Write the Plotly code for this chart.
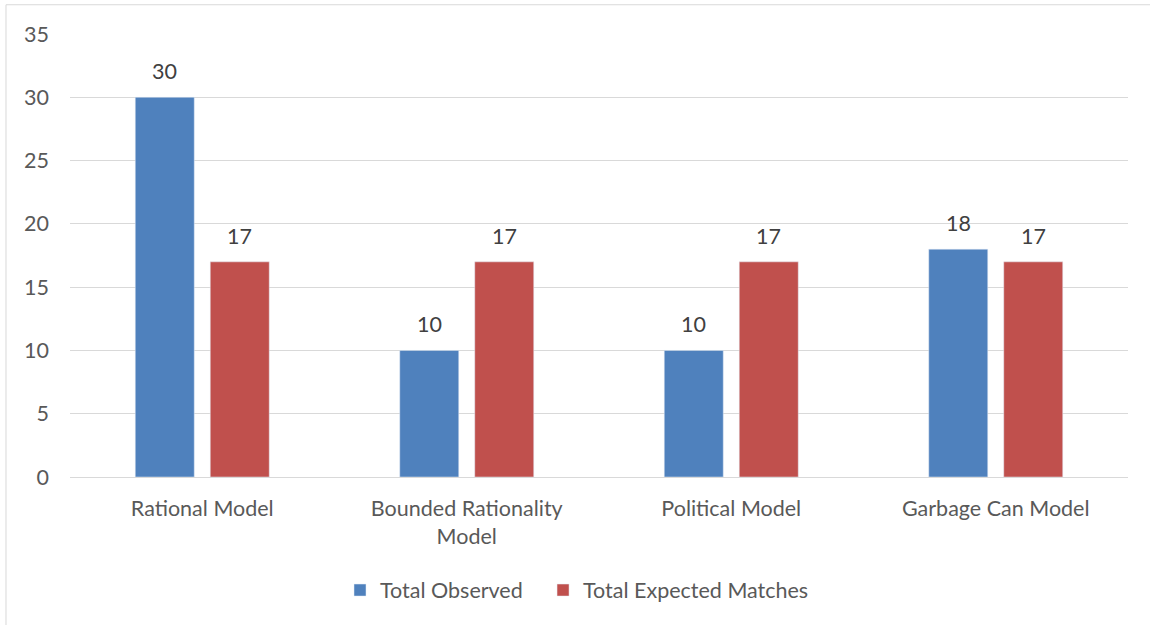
import plotly.graph_objects as go

categories = ["Rational Model", "Bounded Rationality<br>Model", "Political Model", "Garbage Can Model"]
observed = [30, 10, 10, 18]
expected = [17, 17, 17, 17]
series_names = ["Total Observed", "Total Expected Matches"]
y_ticks = [0, 5, 10, 15, 20, 25, 30, 35]

FONT = "Lato"
FS = 21.5
fig = go.Figure()
fig.add_trace(go.Bar(x=categories, y=observed, name=series_names[0], marker_color="#4F81BD",
                     legend="legend"))
fig.add_trace(go.Bar(x=categories, y=expected, name=series_names[1], marker_color="#C0504D",
                     legend="legend2"))

annotations = []
for vals, shift in ((observed, -37.5), (expected, 37.5)):
    for c, v in zip(categories, vals):
        annotations.append(dict(x=c, y=v, text=str(v), showarrow=False, xshift=shift, yshift=26,
                                yanchor="middle", font=dict(color="#404040", size=FS, family=FONT)))

leg_common = dict(orientation="h", xanchor="left", y=-0.209, yanchor="top",
                  font=dict(size=FS, color="#595959", family=FONT), itemwidth=30)

fig.update_layout(
    width=1150, height=625,
    margin=dict(l=70, r=22, t=34, b=148, autoexpand=False),
    paper_bgcolor="white", plot_bgcolor="white",
    barmode="group", bargap=0.433, bargroupgap=0.213,
    font=dict(family=FONT, size=FS, color="#595959"),
    showlegend=True,
    legend=dict(x=0.2552, **leg_common),
    legend2=dict(x=0.4471, **leg_common),
    xaxis=dict(showgrid=False, showline=True, linecolor="#D9D9D9", linewidth=1, automargin=False,
               ticks="", tickfont=dict(size=FS, color="#595959"), ticklabelstandoff=12),
    yaxis=dict(range=[0, 35], tickvals=y_ticks, showgrid=True, gridcolor="#D9D9D9",
               gridwidth=1, zeroline=False, showline=False, ticks="", automargin=False,
               tickfont=dict(size=FS, color="#595959"), ticklabelstandoff=20),
    annotations=annotations,
    shapes=[dict(type="rect", xref="paper", yref="paper", x0=-0.0605, x1=1.1, y0=-0.4, y1=1.066,
                 line=dict(color="#D9D9D9", width=1), layer="below")],
)
fig.write_html("out.html")
